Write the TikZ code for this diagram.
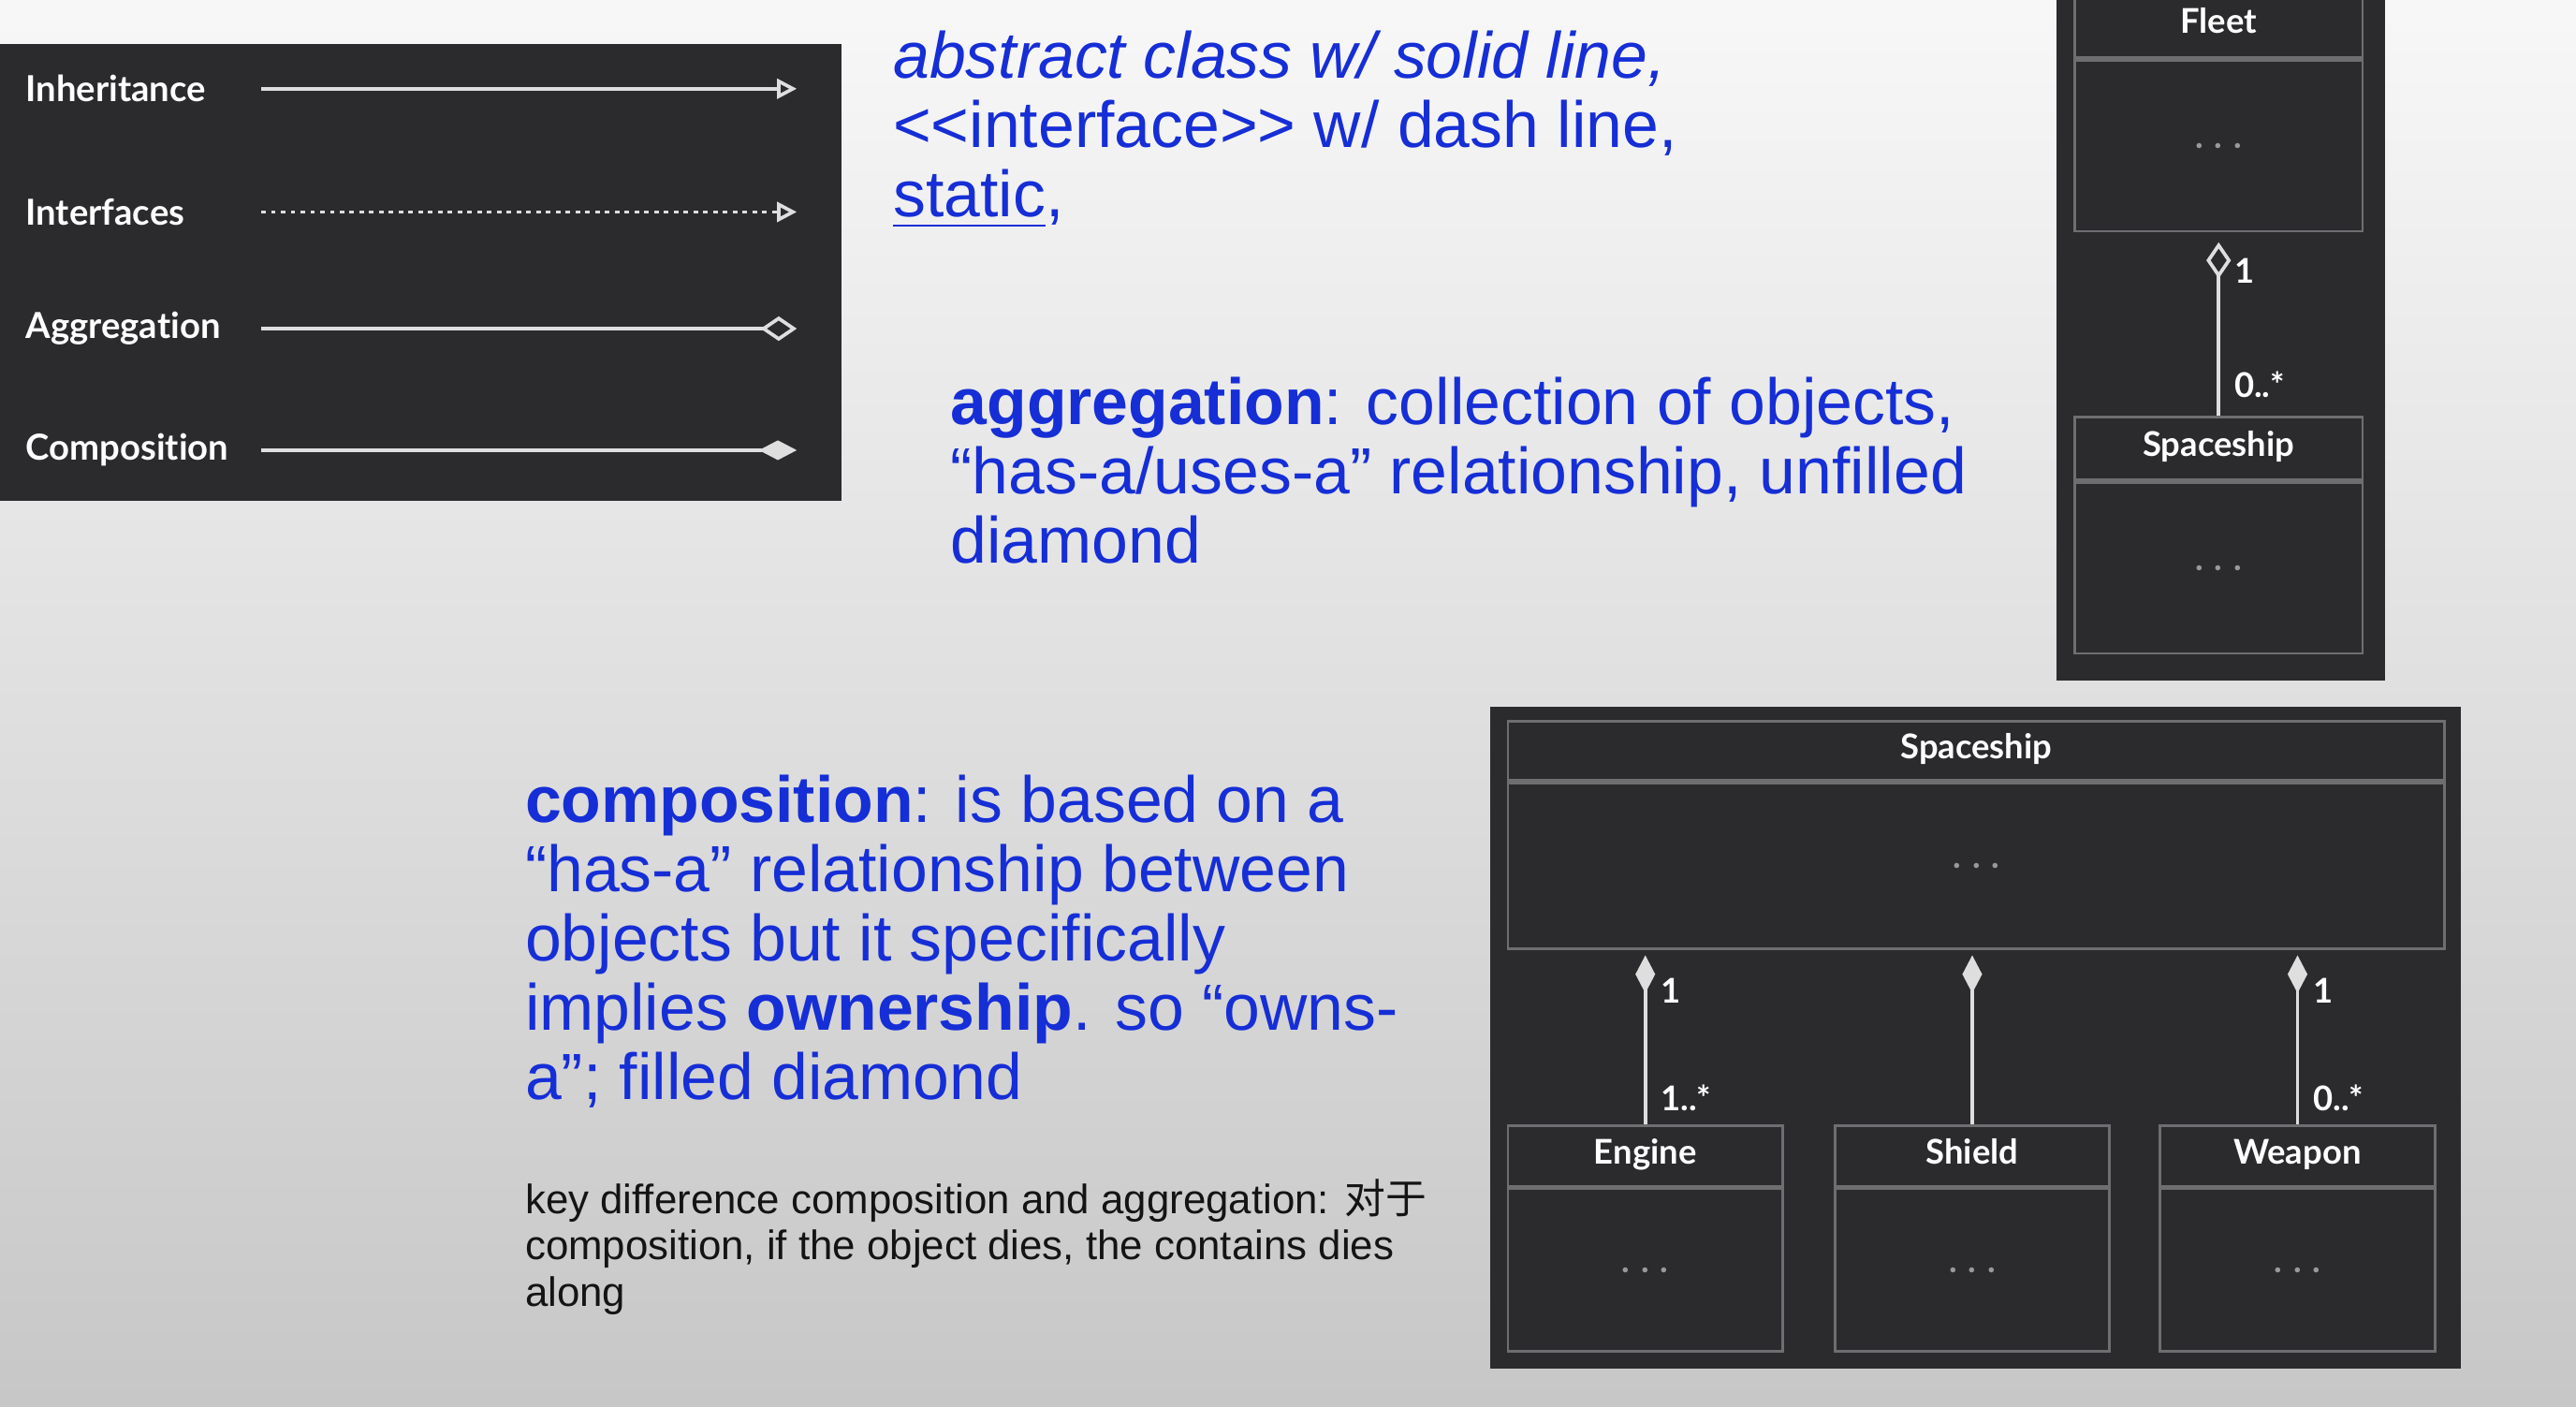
\documentclass[tikz,border=0pt]{standalone}
\usepackage{fontspec}
\setmainfont{Liberation Sans}
\newfontfamily\umlfont{Lato}[Ligatures=NoCommon]
\newfontfamily\cjk{Noto Sans CJK SC}
\usetikzlibrary{positioning,arrows.meta}

\definecolor{panel}{RGB}{43,42,45}
\definecolor{edge}{RGB}{110,110,112}
\definecolor{wire}{RGB}{222,222,222}
\definecolor{slideblue}{RGB}{22,46,214}
\definecolor{ink}{RGB}{20,20,20}

\tikzset{
  box/.style={draw=edge, line width=0.45pt, text=white, inner sep=0pt,
    font=\umlfont\bfseries\fontsize{5.9}{7}\selectfont},
  cname/.style={box, minimum height=0.37cm, text height=4.3pt, text depth=1.5pt},
  cbody/.style={box, text=gray!80, minimum height=1cm},
  mult/.style={font=\umlfont\bfseries\fontsize{5.9}{7}\selectfont, text=white,
    inner sep=1pt, xshift=0.05cm},
  legtext/.style={font=\umlfont\bfseries\fontsize{6.2}{7}\selectfont, text=white,
    anchor=west, inner sep=0pt},
  wirebase/.style={draw=wire, line width=0.6pt},
  inherit/.style={wirebase, -{Triangle[open,length=0.12cm,width=0.12cm]}},
  realize/.style={inherit, dash pattern=on 0.8pt off 0.9pt},
  aggreg/.style={wirebase, -{Diamond[open,length=0.22cm,width=0.15cm]}},
  compos/.style={wirebase, -{Diamond[length=0.23cm,width=0.12cm,fill=wire]}},
  note/.style={anchor=north west, align=left, inner sep=0pt, text=slideblue,
    font=\fontsize{11.3}{12}\selectfont},
}

\begin{document}
\begin{tikzpicture}[x=0.01cm,y=-0.01cm]
\useasboundingbox (0,0) rectangle (1568,856);
\shade[top color=white!97!black, middle color=white!90!black, bottom color=white!78!black]
  (0,0) rectangle (1568,856);

% legend of the connector kinds
\fill[panel] (0,27) rectangle (512,305);
\foreach \nm/\yy/\kind in {Inheritance/54/inherit, Interfaces/129/realize,
    Aggregation/200/aggreg, Composition/274/compos}{
  \node[legtext] (l\nm) at (15,\yy) {\nm};
  \coordinate (s\nm) at (159,\yy);
  \coordinate (e\nm) at (485,\yy);
  \draw[\kind] (s\nm) -- (e\nm);
}

% notes
\node[note] (kinds) at (543,18) {\textit{abstract class w/ solid line,}\\
  \mbox{<}\mbox{<}interface\mbox{>}\mbox{>} w/ dash line,\\ \underline{static},};
\node[note] (aggtxt) at (578,229) {\textbf{aggregation}: collection of objects,\\
  “has-a/uses-a” relationship, unfilled\\ diamond};
\node[note] (comptxt) at (319,471) {\textbf{composition}: is based on a\\
  “has-a” relationship between\\ objects but it specifically\\
  implies \textbf{ownership}. so “owns-\\ a”; filled diamond};
\node[note, text=ink, font=\fontsize{7.1}{8}\selectfont] (diff) at (319,717)
  {key difference composition and aggregation: {\cjk 对于}\\
  composition, if the object dies, the contains dies\\ along};

% aggregation example
\fill[panel] (1252,0) rectangle (1452,414);
\node[cname, minimum width=1.75cm, minimum height=0.39cm] (fleet) at (1350.5,15.5) {Fleet};
\node[cbody, minimum width=1.75cm, minimum height=1.04cm, below=0pt of fleet] (fleetB) {. . .};
\node[cname, minimum width=1.75cm, minimum height=0.38cm] (ship) at (1350.5,273) {Spaceship};
\node[cbody, minimum width=1.75cm, minimum height=1.04cm, below=0pt of ship] (shipB) {. . .};
\draw[aggreg, shorten >=0.06cm] (ship.north)
  -- node[mult, pos=0.17, right] (fm1) {0..*} node[mult, pos=0.79, right] (fm2) {1} (fleetB.south);

% composition example
\fill[panel] (907,430) rectangle (1498,833);
\node[cname, minimum width=5.7cm, minimum height=0.36cm] (whole) at (1203,457) {Spaceship};
\node[cbody, minimum width=5.7cm, minimum height=1.01cm, below=0pt of whole] (wholeB) {. . .};
\foreach \nm/\xx in {Engine/1001.5, Shield/1200.5, Weapon/1398.5}{
  \node[cname, minimum width=1.67cm] (\nm) at (\xx,703.5) {\nm};
  \node[cbody, minimum width=1.67cm, minimum height=0.99cm, below=0pt of \nm] (\nm B) {. . .};
}
\draw[compos, shorten >=0.03cm] (Engine.north)
  -- node[mult, pos=0.15, right] (em1) {1..*} node[mult, pos=0.77, right] (em2) {1}
  (Engine.north |- wholeB.south);
\draw[compos, shorten >=0.03cm] (Shield.north) -- (Shield.north |- wholeB.south);
\draw[compos, shorten >=0.03cm] (Weapon.north)
  -- node[mult, pos=0.15, right] (wm1) {0..*} node[mult, pos=0.77, right] (wm2) {1}
  (Weapon.north |- wholeB.south);
\end{tikzpicture}
\end{document}
